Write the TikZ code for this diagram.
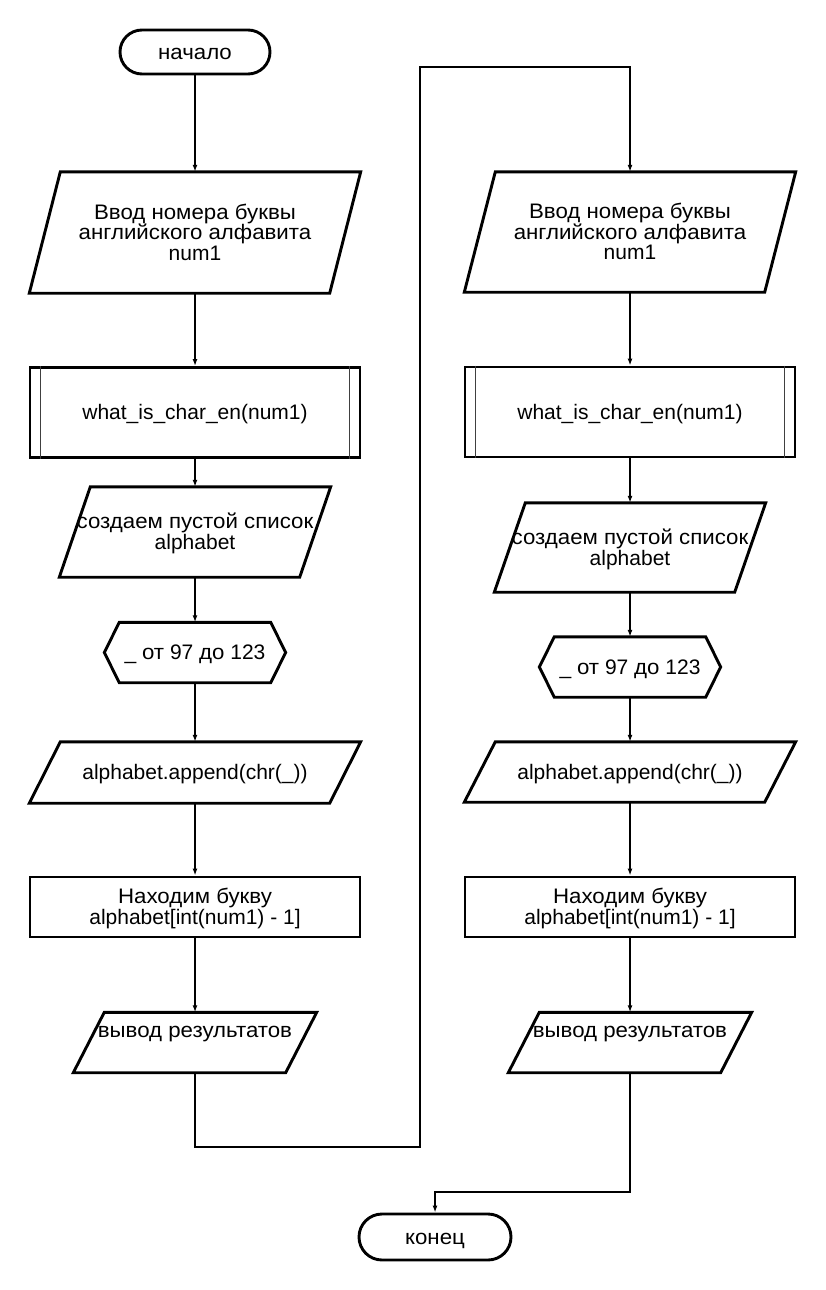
\documentclass[tikz,border=0pt]{standalone}
\usepackage{fontspec}
\setmainfont{Liberation Sans}
\newfontfamily\cyrfont[FakeStretch=1.06]{Liberation Sans}
\newcommand\ru[1]{{\cyrfont #1}}
\newcommand\sx{\rule[-0.212em]{0pt}{1.117em}}
\newcommand\boxfont{\fontsize{21}{20.7}\selectfont\lineskiplimit=-50pt\relax}
\usetikzlibrary{arrows.meta}
\tikzset{
  base/.style={shape=rectangle, draw=none, inner sep=0pt, align=center,
    font=\boxfont},
  frame/.style={draw=black, line width=2.9pt, line join=miter},
  term/.style={base, draw=black, line width=2.9pt, rounded corners=22pt,
    minimum width=150pt, minimum height=44pt},
  procbox/.style={base, draw=black, line width=2.9pt, minimum width=330pt, minimum height=60pt},
  subbox/.style={base, draw=black, line width=2.9pt, minimum width=330pt, minimum height=90pt},
  iobox/.style={base},
  outbox/.style={base, minimum width=243pt, minimum height=60pt, text height=19pt, text depth=29.5pt},
  hexbox/.style={base, minimum width=181pt, minimum height=60pt},
  inner/.style={draw=black!75, line width=1.1pt},
  conn/.style={draw=black, line width=1.5pt, -{Latex[length=7pt,width=5pt]}},
}
\newcommand\ioframe[1]{\draw[frame] ([xshift=31pt]#1.north west) -- (#1.north east) -- ([xshift=-31pt]#1.south east) -- (#1.south west) -- cycle;}
\newcommand\hexframe[1]{\draw[frame] (#1.west) -- ([xshift=15pt]#1.north west) -- ([xshift=-15pt]#1.north east) -- (#1.east) -- ([xshift=-15pt]#1.south east) -- ([xshift=15pt]#1.south west) -- cycle;}
\newcommand\subframe[1]{\draw[inner] ([xshift=12pt]#1.north west) -- ([xshift=12pt]#1.south west);
  \draw[inner] ([xshift=-12pt]#1.north east) -- ([xshift=-12pt]#1.south east);}
\begin{document}
\begin{tikzpicture}[x=1pt,y=-1pt]
\useasboundingbox (0,0) rectangle (825,1290);
% left column
\node[term] (start) at (195,52) {\sx\ru{начало}};
\node[iobox, minimum width=331pt, minimum height=121pt] (in1) at (195,232.5) {\sx\ru{Ввод номера буквы}\\\sx\ru{английского алфавита}\\\sx num1};
\ioframe{in1}
\node[subbox] (sub1) at (195,412.5) {\sx what\_is\_char\_en(num1)};
\subframe{sub1}
\node[iobox, minimum width=271pt, minimum height=90pt] (lst1) at (195,532) {\sx\ru{создаем пустой список}\\\sx alphabet};
\ioframe{lst1}
\node[hexbox] (loop1) at (195,652.5) {\sx\_ \ru{от} 97 \ru{до} 123};
\hexframe{loop1}
\node[iobox, minimum width=331pt, minimum height=61pt] (app1) at (195,772.5) {\sx alphabet.append(chr(\_))};
\ioframe{app1}
\node[procbox] (find1) at (195,907) {\sx\ru{Находим букву}\\\sx alphabet[int(num1) - 1]};
\node[outbox] (out1) at (195,1042.5) {\ru{вывод результатов}};
\ioframe{out1}
% right column
\node[iobox, minimum width=331pt, minimum height=120pt] (in2) at (630,232) {\sx\ru{Ввод номера буквы}\\\sx\ru{английского алфавита}\\\sx num1};
\ioframe{in2}
\node[subbox] (sub2) at (630,412) {\sx what\_is\_char\_en(num1)};
\subframe{sub2}
\node[iobox, minimum width=271pt, minimum height=89pt] (lst2) at (630,547.5) {\sx\ru{создаем пустой список}\\\sx alphabet};
\ioframe{lst2}
\node[hexbox] (loop2) at (630,667) {\sx\_ \ru{от} 97 \ru{до} 123};
\hexframe{loop2}
\node[iobox, minimum width=331pt, minimum height=60pt] (app2) at (630,772) {\sx alphabet.append(chr(\_))};
\ioframe{app2}
\node[procbox] (find2) at (630,907) {\sx\ru{Находим букву}\\\sx alphabet[int(num1) - 1]};
\node[outbox] (out2) at (630,1042.5) {\ru{вывод результатов}};
\ioframe{out2}
\node[term, minimum width=152pt, minimum height=46pt, rounded corners=23pt] (stop) at (435,1237) {\sx\ru{конец}};
% connectors
\draw[conn] (start.south) -- (in1.north);
\draw[conn] (in1.south) -- (sub1.north);
\draw[conn] (sub1.south) -- (lst1.north);
\draw[conn] (lst1.south) -- (loop1.north);
\draw[conn] (loop1.south) -- (app1.north);
\draw[conn] (app1.south) -- (find1.north);
\draw[conn] (find1.south) -- (out1.north);
\coordinate (j1) at (195,1147);
\coordinate (j2) at (420,1147);
\coordinate (j3) at (420,67);
\coordinate (j4) at (630,67);
\draw[conn] (out1.south) -- (j1) -- (j2) -- (j3) -- (j4) -- (in2.north);
\draw[conn] (in2.south) -- (sub2.north);
\draw[conn] (sub2.south) -- (lst2.north);
\draw[conn] (lst2.south) -- (loop2.north);
\draw[conn] (loop2.south) -- (app2.north);
\draw[conn] (app2.south) -- (find2.north);
\draw[conn] (find2.south) -- (out2.north);
\coordinate (k1) at (630,1192);
\coordinate (k2) at (435,1192);
\draw[conn] (out2.south) -- (k1) -- (k2) -- (stop.north);
\end{tikzpicture}
\end{document}
